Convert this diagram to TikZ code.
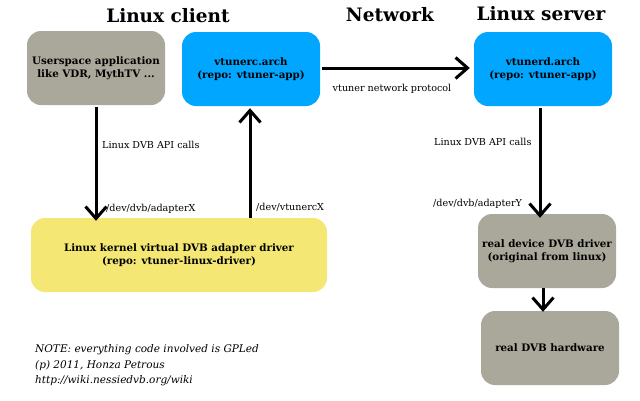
\documentclass[tikz,border=0pt]{standalone}
\usepackage{fontspec}
\setmainfont{DejaVu Serif}
\usetikzlibrary{positioning, arrows.meta}

\definecolor{boxgray}{RGB}{170,168,155}
\definecolor{boxblue}{RGB}{0,166,255}
\definecolor{boxyellow}{RGB}{245,231,115}

\begin{document}
\begin{tikzpicture}[
                x=1pt, y=-1pt,
                >={Straight Barb[length=12pt, width=21pt, line width=3pt]},
                box/.style={rectangle, rounded corners=14pt, minimum width=138pt, minimum height=74pt, align=center, font=\fontsize{10.3}{13}\selectfont\bfseries, inner sep=2pt},
                graybox/.style={box, fill=boxgray},
                bluebox/.style={box, fill=boxblue},
                title/.style={font=\fontsize{18.5}{22}\selectfont\bfseries},
                arrow/.style={->, line width=3pt, draw=black},
                lbl/.style={font=\fontsize{9.6}{12}\selectfont, inner sep=0pt, anchor=west},
                note/.style={font=\fontsize{10.5}{13}\selectfont\itshape, inner sep=0pt, anchor=west}
            ]
            \useasboundingbox (0,0) rectangle (640,400);

            % Headings
            \node[title] (clienttitle) at (168,16) {Linux client};
            \node[title] (nettitle) at (390,15) {Network};
            \node[title] (servertitle) at (541,14) {Linux server};

            % Client side
            \node[graybox] (app) at (96,68) {Userspace application\\like VDR, MythTV ...};
            \node[bluebox] (vtunerc) at (251,69) {vtunerc.arch\\(repo: vtuner-app)};
            \node[box, fill=boxyellow, minimum width=296pt] (kernel) at (179,255) {Linux kernel virtual DVB adapter driver\\(repo: vtuner-linux-driver)};

            % Server side
            \node[bluebox] (vtunerd) at (543,69) {vtunerd.arch\\(repo: vtuner-app)};
            \node[graybox] (realdrv) at (547,251) {real device DVB driver\\(original from linux)};
            \node[graybox] (hw) at (550,348) {real DVB hardware};

            % Connectors
            \draw[arrow] ([yshift=-2pt]app.south) -- ([yshift=-3pt]app.south |- kernel.north);
            \draw[arrow] ([xshift=-1pt]kernel.north -| vtunerc.south) -- ([xshift=-1pt, yshift=-2pt]vtunerc.south);
            \draw[arrow] ([xshift=2pt, yshift=1pt]vtunerc.east) -- ([xshift=-4pt, yshift=1pt]vtunerd.west);
            \draw[arrow] ([xshift=-3pt, yshift=-2pt]vtunerd.south) -- ([xshift=-3pt, yshift=-4pt]vtunerd.south |- realdrv.north);
            \draw[arrow] ([xshift=-4pt]realdrv.south) -- ([xshift=-7pt, yshift=-1pt]hw.north);

            % Connector labels
            \node[lbl] (apicalls) at (102,145) {Linux DVB API calls};
            \node[lbl] (adapterx) at (106,209) {/dev/dvb/adapterX};
            \node[lbl] (vtunercx) at (256,207) {/dev/vtunercX};
            \node[lbl, anchor=center] (proto) at (392,89) {vtuner network protocol};
            \node[lbl] (apicalls2) at (434,142) {Linux DVB API calls};
            \node[lbl] (adaptery) at (433,204) {/dev/dvb/adapterY};

            % Note
            \node[note] (note1) at (35,350) {NOTE: everything code involved is GPLed};
            \node[note] (note2) at (35,366) {(p) 2011, Honza Petrous};
            \node[note] (note3) at (35,381) {http://wiki.nessiedvb.org/wiki};

        \end{tikzpicture}
\end{document}
